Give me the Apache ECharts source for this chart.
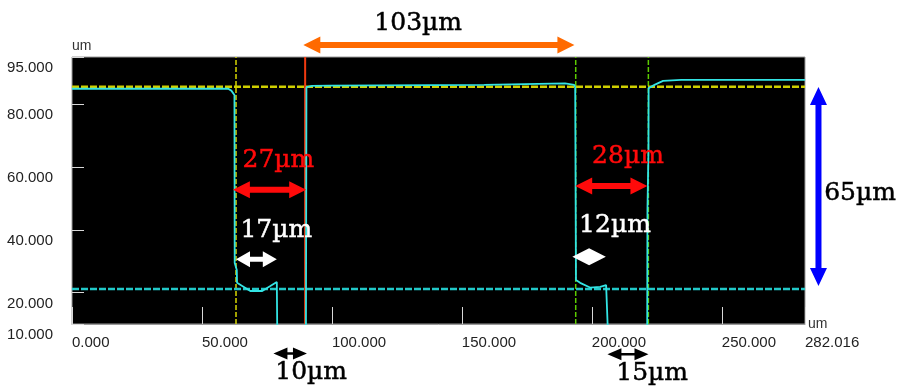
<!DOCTYPE html>
<html>
<head>
<meta charset="utf-8">
<script src="https://cdn.jsdelivr.net/npm/echarts@6/dist/echarts.min.js"></script>
<style>
  html, body { margin: 0; padding: 0; background: #fff; }
  #chart { width: 898px; height: 392px; }
</style>
</head>
<body>
<div id="chart"></div>
<script>
// Step-height profile: position (um) vs height (um)
const profileX = [0, 30.1, 60.1, 61.3, 62.0, 62.5, 62.6, 63.4, 63.5, 65.5, 68.6, 73.2, 76.3, 78.8, 79.0,
                  90.0, 90.2, 92.4, 99.3, 158.6, 159.0, 189.7, 190.1, 193.2, 193.6, 193.9, 195.5, 199.3,
                  203.2, 205.5, 206.3, 221.3, 221.4, 221.8, 221.85, 224.3, 227.4, 234.3, 282.016];
const profileY = [84.9, 84.9, 84.9, 84.3, 83.9, 82.9, 29.4, 27.2, 23.1, 22.1, 20.5, 20.5, 22.1, 23.4, 5,
                  5, 85.4, 85.8, 85.9, 86.1, 86.6, 86.6, 86.1, 86.1, 85.4, 24.0, 23.1, 21.6,
                  21.8, 22.4, 5, 5, 46.3, 65.4, 85.1, 86.2, 87.4, 87.7, 87.7];

// Horizontal reference levels (top surface / bottom of trench)
const levelTop = 85.55;
const levelBottom = 21.15;

// Vertical measurement cursors (um)
const cursorX = [63.1, 89.7, 193.8, 221.75];

// Axis extents and tick labels
const xMin = 0, xMax = 282.016, xStep = 50;
const yMin = 10, yMax = 95;
const yTickValues = [10, 20, 40, 60, 80, 95];

// Dimension callouts: text and the span they measure (um)
const dimTexts = ['103µm', '27µm', '17µm', '28µm', '12µm', '65µm', '10µm', '15µm'];
const dimSpans = [
  [89.0, 193.3], [61.9, 90.1], [63.1, 78.8], [193.6, 221.4],
  [192.5, 205.4], [85.45, 22.1], [77.5, 90.4], [206.0, 221.8]
];

const chart = echarts.init(document.getElementById('chart'), null, { renderer: 'canvas' });

const cursorStyles = [
  { color: '#d8d800', type: [5, 2], width: 1.5 },
  { color: '#f03a10', type: 'solid', width: 2 },
  { color: '#5ccc00', type: [5, 2], width: 1.5 },
  { color: '#5ccc00', type: [5, 2], width: 1.5 }
];

const cursorSeries = cursorX.map((x, i) => ({
  type: 'line',
  data: [[x, yMin], [x, yMax]],
  symbol: 'none',
  silent: true,
  lineStyle: cursorStyles[i],
  z: 2
}));

const axisFont = "'Liberation Sans', Arial, sans-serif";

chart.setOption({
  animation: false,
  backgroundColor: '#fff',
  grid: {
    left: 72, top: 57, width: 733, height: 267,
    show: true, backgroundColor: '#000', borderColor: '#9a9a9a', borderWidth: 1
  },
  xAxis: {
    type: 'value', min: xMin, max: xMax, interval: xStep,
    name: 'um', nameLocation: 'end', nameGap: 3,
    nameTextStyle: { color: '#333', fontSize: 14, fontFamily: axisFont, align: 'left' },
    axisLine: { show: true, lineStyle: { color: '#9a9a9a' } },
    axisTick: { show: true, inside: true, length: 17, lineStyle: { color: '#d8d8d8', width: 1 } },
    splitLine: { show: false },
    axisLabel: {
      color: '#222', fontSize: 15, fontFamily: axisFont, align: 'left', margin: 11,
      showMaxLabel: true, showMinLabel: true,
      formatter: v => v.toFixed(3)
    }
  },
  yAxis: {
    type: 'value', min: yMin, max: yMax,
    name: 'um', nameLocation: 'end', nameGap: 4,
    nameTextStyle: { color: '#333', fontSize: 14, fontFamily: axisFont, align: 'left', verticalAlign: 'bottom' },
    axisLine: { show: false },
    axisTick: { show: true, inside: true, length: 12, customValues: yTickValues, lineStyle: { color: '#d8d8d8' } },
    splitLine: { show: false },
    axisLabel: {
      color: '#222', fontSize: 15, fontFamily: axisFont, margin: 19,
      verticalAlign: 'top', lineHeight: 22,
      customValues: yTickValues,
      formatter: v => v.toFixed(3)
    }
  },
  series: [
    ...cursorSeries,
    {
      type: 'line', data: [[xMin, levelTop], [xMax, levelTop]], symbol: 'none', silent: true,
      lineStyle: { color: '#cfcf00', width: 2.5, type: [7, 2] }, z: 3
    },
    {
      type: 'line', data: [[xMin, levelBottom], [xMax, levelBottom]], symbol: 'none', silent: true,
      lineStyle: { color: '#22c8c8', width: 2.5, type: [7, 2] }, z: 3
    },
    {
      type: 'line', data: profileX.map((x, i) => [x, profileY[i]]), symbol: 'none', silent: true,
      clip: true,
      lineStyle: { color: '#33e4e4', width: 1.8 }, z: 4
    }
  ]
});

// Double-headed arrow outline between two pixel points
function arrowPoints(p1, p2, sw, hl, hw) {
  const dx = p2[0] - p1[0], dy = p2[1] - p1[1];
  const L = Math.hypot(dx, dy);
  const ux = dx / L, uy = dy / L, nx = -uy, ny = ux;
  const at = (t, s) => [p1[0] + ux * t + nx * s, p1[1] + uy * t + ny * s];
  const h = Math.min(hl, L / 2);
  return [at(0, 0), at(h, hw / 2), at(h, sw / 2), at(L - h, sw / 2), at(L - h, hw / 2),
          at(L, 0), at(L - h, -hw / 2), at(L - h, -sw / 2), at(h, -sw / 2), at(h, -hw / 2)];
}

const toPx = (x, y) => chart.convertToPixel({ gridIndex: 0 }, [x, y]);

// Callout layout: arrow row height, label anchor, arrow geometry, colours
const callouts = [
  { arrowY: 98.8,  label: [133.2, 105.8], sw: 6,   hl: 17, hw: 17, arrow: '#ff6a00', text: '#000' },
  { arrowY: 52.7,  label: [79.4, 62.2],   sw: 6,   hl: 17, hw: 17, arrow: '#ff0a0a', text: '#ff0a0a' },
  { arrowY: 30.6,  label: [78.6, 39.9],   sw: 5,   hl: 14, hw: 16, arrow: '#fff',    text: '#fff' },
  { arrowY: 53.9,  label: [213.9, 63.2],  sw: 6,   hl: 17, hw: 17, arrow: '#ff0a0a', text: '#ff0a0a' },
  { arrowY: 31.4,  label: [208.9, 41.5],  sw: 0,   hl: 99, hw: 17, arrow: '#fff',    text: '#fff' },
  { arrowX: 287.2, label: [303.2, 51.7],  sw: 6,   hl: 18, hw: 17, arrow: '#0000ff', text: '#000' },
  { arrowY: 0.6,   label: [92.0, -5.3],   sw: 2.5, hl: 14, hw: 12, arrow: '#000',    text: '#000' },
  { arrowY: 0.35,  label: [223.2, -5.9],  sw: 2.5, hl: 14, hw: 12, arrow: '#000',    text: '#000' }
];

const graphics = [];
callouts.forEach((c, i) => {
  const span = dimSpans[i];
  let p1, p2;
  if (c.arrowX !== undefined) {
    p1 = toPx(c.arrowX, span[0]);
    p2 = toPx(c.arrowX, span[1]);
  } else {
    p1 = toPx(span[0], c.arrowY);
    p2 = toPx(span[1], c.arrowY);
  }
  graphics.push({
    type: 'polygon', z: 100, silent: true,
    shape: { points: arrowPoints(p1, p2, c.sw, c.hl, c.hw) },
    style: { fill: c.arrow }
  });
  const lp = toPx(c.label[0], c.label[1]);
  graphics.push({
    type: 'text', z: 101, silent: true, x: lp[0], y: lp[1],
    style: {
      text: dimTexts[i], fill: c.text, stroke: c.text, lineWidth: 0.5,
      fontFamily: "'DejaVu Serif', 'Liberation Serif', serif", fontSize: 25,
      align: 'center', verticalAlign: 'middle'
    }
  });
});

chart.setOption({ graphic: graphics });
</script>
</body>
</html>
